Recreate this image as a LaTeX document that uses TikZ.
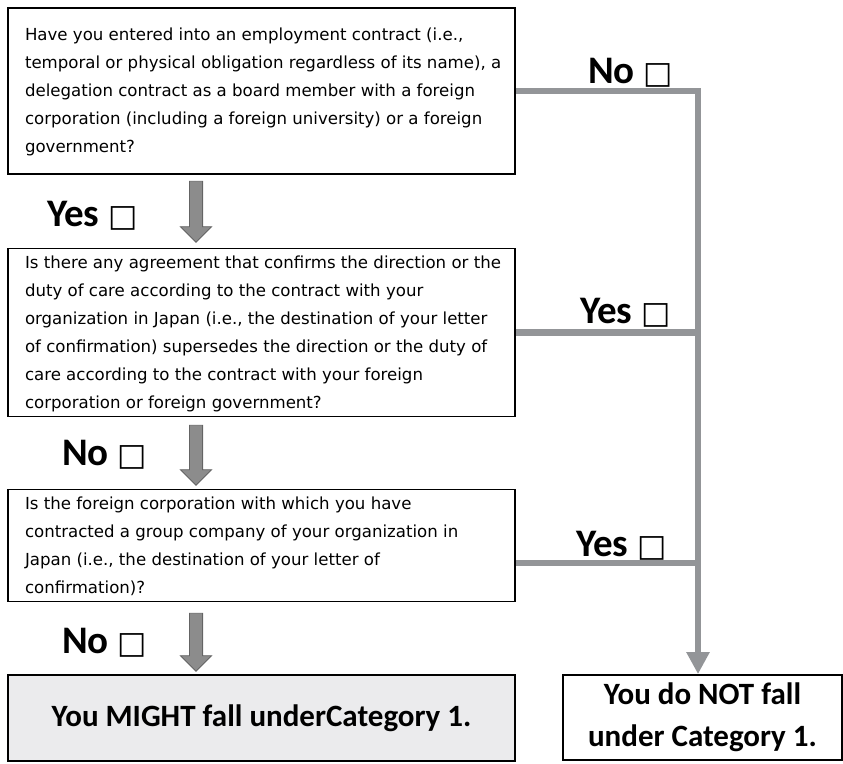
\documentclass[tikz,border=0pt]{standalone}
\usepackage{fontspec}
\setmainfont{DejaVu Sans}
\newfontfamily\lblfont{Carlito}
\newfontfamily\boxsym{DejaVu Sans}
\usetikzlibrary{shapes.arrows}
\usetikzlibrary{arrows.meta}
\usepackage{xcolor}
\definecolor{linegray}{RGB}{147,149,152}
\definecolor{arrgray}{RGB}{140,140,140}
\definecolor{arredge}{RGB}{100,100,100}
\definecolor{resfill}{RGB}{235,235,237}
\newcommand{\chk}{{\boxsym\fontsize{31}{31}\selectfont\symbol{"25A1}}}
\newcommand{\qlines}[1]{\makebox[490pt][l]{\hspace{8.5pt}\begin{tabular}{@{}l@{}}#1\end{tabular}}}
\tikzset{
  qbox/.style={draw, line width=1.8pt, minimum width=507pt, inner xsep=8.5pt,
    inner ysep=0pt, font=\fontsize{16.6}{28}\selectfont},
  resbox/.style={draw, line width=1.8pt, align=center,
    font=\lblfont\bfseries\fontsize{31}{42}\selectfont},
  ans/.style={anchor=base west, inner sep=0pt,
    font=\lblfont\bfseries\fontsize{39}{39}\selectfont},
  downarr/.style={single arrow, rotate=-90, fill=arrgray, draw=arredge,
    line width=0.8pt, single arrow head extend=9pt, inner xsep=0pt, inner ysep=6.2pt},
  flow/.style={draw=linegray, line width=6.5pt},
}

\begin{document}
\begin{tikzpicture}[x=1pt,y=-1pt]
\useasboundingbox (0,0) rectangle (843,763);
% questions
\node[qbox, minimum height=166pt] (q1) at (261.5,91) {\qlines{Have you entered into an employment contract (i.e.,\\
temporal or physical obligation regardless of its name), a\\
delegation contract as a board member with a foreign\\
corporation (including a foreign university) or a foreign\\
government?}};
\node[qbox, minimum height=167pt] (q2) at (261.5,332.5) {\qlines{Is there any agreement that confirms the direction or the\\
duty of care according to the contract with your\\
organization in Japan (i.e., the destination of your letter\\
of confirmation) supersedes the direction or the duty of\\
care according to the contract with your foreign\\
corporation or foreign government?}};
\node[qbox, minimum height=111pt] (q3) at (261.5,545.5) {\qlines{Is the foreign corporation with which you have\\
contracted a group company of your organization in\\
Japan (i.e., the destination of your letter of\\
confirmation)?}};
% results
\node[resbox, fill=resfill, minimum width=507pt, minimum height=86pt] (might) at (261.5,718) {You MIGHT fall underCategory 1.};
\node[resbox, minimum width=279pt, minimum height=85pt] (donot) at (702.5,717.5) {You do NOT fall\\under Category 1.};
% down arrows
\node[downarr, minimum height=61pt] (d1) at (196,208.5) {};
\node[downarr, minimum height=60pt] (d2) at (196,452) {};
\node[downarr, minimum height=58pt] (d3) at (196,639) {};
% right trunk
\coordinate (trunk) at (698,91);
\coordinate (j3) at (698,563);
\draw[flow, -{Triangle[width=22pt,length=22pt]}] (q1.east) -- (trunk) -- (trunk |- donot.north);
\draw[flow] (q2.east) -- (q2.east -| trunk);
\draw[flow] (q3.east |- j3) -- (j3);
% answers
\node[ans] (no1) at (588,83) {No \chk};
\node[ans] (yes2) at (580,323) {Yes \chk};
\node[ans] (yes3) at (576,556) {Yes \chk};
\node[ans] (yes1) at (47,226) {Yes \chk};
\node[ans] (no2) at (62,465) {No \chk};
\node[ans] (no3) at (62,653) {No \chk};
\end{tikzpicture}
\end{document}
